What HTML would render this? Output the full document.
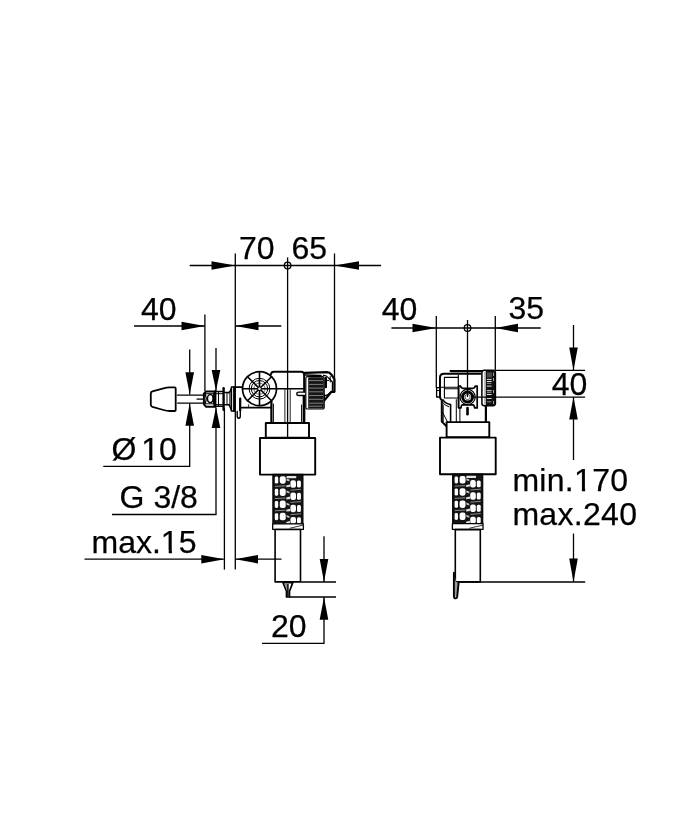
<!DOCTYPE html>
<html>
<head>
<meta charset="utf-8">
<title>Drawing</title>
<style>
html,body{margin:0;padding:0;background:#fff;}
body{width:678px;height:814px;overflow:hidden;}
svg{display:block;will-change:transform;}
text{font-family:"Liberation Sans",Arial,sans-serif;font-size:32px;fill:#000;stroke:#000;stroke-width:0.25px;}
.d{stroke:#000;stroke-width:1.3;fill:none;}
.o{stroke:#000;stroke-width:1.9;fill:none;stroke-linejoin:round;stroke-linecap:round;}
.t{stroke:#000;stroke-width:1;fill:none;stroke-linejoin:round;stroke-linecap:round;}
.w{stroke:#000;stroke-width:1.9;fill:#fff;stroke-linejoin:round;}
.a{fill:#000;stroke:none;}
</style>
</head>
<body>
<svg width="678" height="814" viewBox="0 0 678 814">
<rect width="678" height="814" fill="#fff"/>

<!-- ================= LEFT VIEW : object ================= -->
<g id="objL">
  <!-- cone cap -->
  <path class="o" d="M150.8 393.4Q150.8 391.8 152.4 391.3L163.5 388.3Q167 387.3 169.5 387.3H174.6Q175.7 387.3 175.7 388.4V409.9Q175.7 411 174.6 411H169.5Q167 411 163.5 410L152.4 406.8Q150.8 406.3 150.8 404.8Z" style="stroke-width:1.8"/>
  <!-- pipe -->
  <path class="t" d="M177.6 395.2H203M177.6 403.1H203M197 399H203" style="stroke-width:1.25"/>
  <!-- nut -->
  <path class="w" d="M206.2 391.4H214.4V406.8H206.2L203.9 404.4V393.8Z" style="stroke-width:2"/>
  <path class="t" d="M204.8 393.7H214.4M204.8 403.8H214.4"/>
  <ellipse class="t" cx="210.3" cy="398.6" rx="2.8" ry="4" style="stroke-width:1.4"/>
  <path class="t" d="M205.4 394Q207 398.6 205.4 403.4M214 394Q212.8 398.6 214 403.4" style="stroke-width:1.3"/>
  <path class="o" d="M215.3 391.2V406.8" style="stroke-width:2.2"/>
  <!-- fitting -->
  <path class="o" d="M216.3 391.5H222.5M216.3 406.3H222.5" style="stroke-width:1.5"/>
  <path class="t" d="M216.3 393.7H222.5M216.3 404.6H222.5M218.5 391.5V406.3"/>
  <path class="o" d="M223.6 388.2V409.8" style="stroke-width:2.4"/>
  <path class="o" d="M224.8 392.6H228.8M224.8 404.7H228.8" style="stroke-width:1.5"/>
  <path class="t" d="M227 392.6V404.7"/>
  <path class="o" d="M228.8 392.8Q230.2 391.5 231.3 388.4M228.8 404.5Q230.2 406.5 231.3 410" style="stroke-width:1.4"/>
  <path class="t" d="M229.9 391.6V406.2"/>
  <!-- flange -->
  <path class="w" d="M231.4 387H234.2V411H231.4Z" style="stroke-width:1.5"/>
  <path class="o" d="M234.2 387V411" style="stroke-width:2"/>
  <!-- body bar -->
  <path class="o" d="M234.8 387.2H242.6M240.2 407.7H271" style="stroke-width:1.7"/>
  <!-- clip -->
  <path class="o" d="M240.3 398.4V415.8Q240.3 418.3 238.8 418.3Q237.2 418.3 237.2 415.8V411.4" style="stroke-width:1.4"/>
  <path class="o" d="M240.2 398.6V410.5" style="stroke-width:2.2"/>
  <!-- wheel -->
  <circle class="w" cx="259.5" cy="388.7" r="17" style="stroke-width:1.7"/>
  <circle class="t" cx="259.5" cy="388.7" r="10.4" style="stroke-width:1"/>
  <circle class="t" cx="259.5" cy="388.7" r="8.2" style="stroke-width:1"/>
  <circle class="t" cx="259.5" cy="388.7" r="5.6" style="stroke-width:0.8;stroke:#444"/>
  <path class="t" d="M242.5 388.7H276.5M259.5 371.7V405.7M247.5 376.7L271.5 400.7M271.5 376.7L247.5 400.7" style="stroke-width:1.6"/>
  <circle cx="259.5" cy="388.7" r="1.3" fill="#fff" stroke="none"/>
  <path class="t" d="M248.6 404.6V407" style="stroke:#333"/>
  <!-- elbow -->
  <path class="o" d="M270.9 374.4Q271.4 371.7 273.8 371.7H301.2Q303.9 371.7 304.1 374.4V395"/>
  <path class="o" d="M276.5 388.7H304.1" style="stroke-width:1.5"/>
  <path class="t" d="M284.9 388.7V422.7M290.2 388.7V422.7" style="stroke:#222"/>
  <path class="o" d="M271.4 401.5V422.7" style="stroke-width:2.2"/>
  <path class="t" d="M273.4 404V422.7"/>
  <path class="o" d="M304 396V422.7" style="stroke-width:2.7"/>
  <path class="t" d="M301.6 405V422.7"/>
  <path class="w" d="M305.4 392.2H299Q296.8 392.2 296.8 393.9Q296.8 395.5 299 395.5H305.4" style="stroke-width:1.3"/>
  <!-- ribbed knob -->
  <path class="o" d="M304.8 372.9L327 372.1Q329.8 372.2 331.6 374.8L334.4 379.2V391.8H331.4L323.4 401.6" style="stroke-width:2.2"/>
  <path class="o" d="M305.4 375L321 375.5" style="stroke-width:1.6"/>
  <path class="t" d="M323.4 375.4Q326.4 375.2 328.6 378L332.4 382V391L327 395.2L323.4 396.2" style="stroke-width:1.2"/>
  <rect x="305.8" y="376.6" width="18.4" height="32.4" rx="1.6" fill="#fff" stroke="#000" stroke-width="1.2"/>
  <rect x="308.2" y="377.2" width="15.6" height="31.4" rx="1.2" fill="#161616"/>
  <path d="M309 380.6H323M309 384.4H323M309 388.1H323M309 391.8H323M309 395.5H323M309 399.3H323M309 403.2H323M309 406.2H322" stroke="#8a8a8a" stroke-width="0.9" fill="none"/>
  <path class="t" d="M325.9 377.8V387.2" style="stroke-width:2.2"/>
  <path class="t" d="M327.4 380.4H328.6M330.2 376.5V382"/>
  <path class="t" d="M324.6 394.5V400"/>
  <!-- collars -->
  <path class="w" d="M265.8 423H309V437.6H265.8Z"/>
  <path class="w" d="M260 438H315.2V474.6H260Z"/>
  <!-- spiral tube -->
    <rect x="272.9" y="474.4" width="30" height="49.4" fill="#141414" stroke="#000" stroke-width="1.2"/>
    <g fill="#fff" stroke="none">
    <rect x="274.8" y="476.6" width="3.4" height="7.0" rx="1.4"/>
    <rect x="279.8" y="476.2" width="5.9" height="7.5" rx="2.1"/>
    <rect x="290.4" y="480.3" width="5.6" height="7.5" rx="2.1"/>
    <rect x="297.0" y="480.6" width="3.9" height="6.9" rx="1.5"/>
    <path d="M286.3 485.4L290.1 484.4V486.8L286.3 487.2Z" fill="#e4e4e4"/>
    <path d="M286.5 478.4L289.5 479.6V481.4L286.5 480.4Z" fill="#c4c4c4"/>
    <path d="M274.9 486.4L285.5 485.8" stroke="#9a9a9a" stroke-width="0.9" fill="none"/>
    <path d="M290.5 490.2L300.9 489.4" stroke="#9a9a9a" stroke-width="0.9" fill="none"/>
    <rect x="274.8" y="488.8" width="3.4" height="7.0" rx="1.4"/>
    <rect x="279.8" y="488.4" width="5.9" height="7.5" rx="2.1"/>
    <rect x="290.4" y="492.5" width="5.6" height="7.5" rx="2.1"/>
    <rect x="297.0" y="492.8" width="3.9" height="6.9" rx="1.5"/>
    <path d="M286.3 497.6L290.1 496.6V499.0L286.3 499.4Z" fill="#e4e4e4"/>
    <path d="M286.5 490.6L289.5 491.8V493.6L286.5 492.6Z" fill="#c4c4c4"/>
    <path d="M274.9 498.6L285.5 498.0" stroke="#9a9a9a" stroke-width="0.9" fill="none"/>
    <path d="M290.5 502.4L300.9 501.6" stroke="#9a9a9a" stroke-width="0.9" fill="none"/>
    <rect x="274.8" y="501.0" width="3.4" height="7.0" rx="1.4"/>
    <rect x="279.8" y="500.6" width="5.9" height="7.5" rx="2.1"/>
    <rect x="290.4" y="504.7" width="5.6" height="7.5" rx="2.1"/>
    <rect x="297.0" y="505.0" width="3.9" height="6.9" rx="1.5"/>
    <path d="M286.3 509.8L290.1 508.8V511.2L286.3 511.6Z" fill="#e4e4e4"/>
    <path d="M286.5 502.8L289.5 504.0V505.8L286.5 504.8Z" fill="#c4c4c4"/>
    <path d="M274.9 510.8L285.5 510.2" stroke="#9a9a9a" stroke-width="0.9" fill="none"/>
    <path d="M290.5 514.6L300.9 513.8" stroke="#9a9a9a" stroke-width="0.9" fill="none"/>
    <rect x="274.8" y="513.2" width="3.4" height="7.0" rx="1.4"/>
    <rect x="279.8" y="512.8" width="5.9" height="7.5" rx="2.1"/>
    <rect x="290.4" y="516.9" width="5.6" height="6.8" rx="2.1"/>
    <rect x="297.0" y="517.2" width="3.9" height="6.2" rx="1.5"/>
    <path d="M286.3 522.0L290.1 521.0V523.4L286.3 523.8Z" fill="#e4e4e4"/>
    <path d="M286.5 515.0L289.5 516.2V518.0L286.5 517.0Z" fill="#c4c4c4"/>
    <rect x="286.4" y="475.9" width="10" height="2.3" rx="1" fill="#e4e4e4"/>
    </g>
  <!-- ring -->
  <path class="w" d="M272.7 523.8H303.4V529.4H272.7Z" style="stroke-width:1.3"/>
  <path class="t" d="M290 528.2L303 525.2" style="stroke:#333"/>
  <!-- lower tube -->
  <path class="w" d="M275.1 529.5H300.5V581.9H275.1Z" style="stroke-width:1.6"/>
  <!-- tip -->
  <path d="M283 582.6L286.5 591.2V597H289.5V591.2L292.8 582.6Z" fill="#fff" stroke="#000" stroke-width="1.7" stroke-linejoin="round"/>
  <path d="M284.4 583.2H287.4V592Z" fill="#8a8a8a"/>
  <path d="M287.9 584V596.4" fill="none" stroke="#000" stroke-width="1.5"/>
</g>

<!-- ================= RIGHT VIEW : object ================= -->
<g id="objR">
  <!-- small box left -->
  <path class="o" d="M439.6 387.7H436.6V397H439.6" style="stroke-width:1.3"/>
  <path class="t" d="M436.6 390.5H440"/>
  <!-- top lines -->
  <path d="M451 371H481V373.8H451Z" fill="#bdbdbd"/>
  <path class="o" d="M450.4 371H483.1" style="stroke-width:1.8"/>
  <!-- body outline -->
  <path class="o" d="M480.5 373.8H444Q440 373.8 440 377.8V396.5Q440 398.8 441.8 400.2V421.6L447.3 427" style="stroke-width:2"/>
  <!-- inner rect -->
  <path class="t" d="M444.4 377.4H458.3M444.4 377.4V398M441 387.2H458.3M444.4 388.8H458.3M444.4 398H458.3" style="stroke-width:1.1"/>
  <path class="t" d="M458.3 375.4V407.4" style="stroke-width:1.2"/>
  <!-- shoulder curves -->
  <path class="o" d="M443 399.8Q445 403.2 450.6 404.6V421.8" style="stroke-width:1.6"/>
  <path class="t" d="M442 401.5Q444 405.6 448.8 406.8"/>
  <path class="t" d="M442.6 412.5L447.4 421.6M443.2 405V421.6"/>
  <path class="t" d="M456.3 399.6V421.8M459.9 408V421.8"/>
  <!-- bracket around inlet -->
  <path class="w" d="M458.7 386.2H460.6Q461 388.3 462.8 388.3H473Q474.8 388.3 475.2 386.2H477.2V407.9H474.6Q474.4 404.8 472.8 404.8H462.6Q461.2 404.8 461 407.9H458.7Z" style="stroke-width:1.7"/>
  <!-- inlet circle -->
  <circle cx="467.6" cy="397" r="7.6" fill="#fff" stroke="#000" stroke-width="1.2"/>
  <circle cx="467.6" cy="397" r="5.0" fill="#fff" stroke="#000" stroke-width="3"/>
  <circle cx="467.6" cy="397" r="2.6" fill="none" stroke="#333" stroke-width="0.8"/>
  <path class="o" d="M467.5 408V414.2" style="stroke-width:2.6"/>
  <!-- right neck -->
  <path class="o" d="M485.9 405.6V421.8" style="stroke-width:2.2"/>
  <!-- knob side -->
  <rect x="481.9" y="370.3" width="13.5" height="35.4" rx="2.4" fill="#fff" stroke="#000" stroke-width="1.5"/>
  <path d="M484.1 371.4H485.9V404.6H484.1Z" fill="#b8b8b8"/>
  <path d="M485.9 371H493.6Q495 371 495 372.6V403.4Q495 405 493.6 405H485.9Z" fill="#101010"/>
  <rect x="487" y="372.4" width="5" height="5" fill="#4a4a4a"/>
  <path d="M486.9 379.4H491.6M486.9 381.5H491.6M486.9 386.1H491.6M486.9 390.7H491.6M486.9 394.5H491.6M486.9 398.4H491.6" stroke="#f2f2f2" stroke-width="0.95" fill="none"/>
  <path d="M486.9 383.4H491.4M486.9 392.4H491.4M486.9 401.8H491.4" stroke="#8c8c8c" stroke-width="1" fill="none"/>
  <path d="M493.5 372.5V376M493.5 378V381M493.5 390V393M493.5 401V404" stroke="#ddd" stroke-width="0.7" fill="none"/>
  <!-- collars -->
  <path class="w" d="M446.6 422.1H489.3V437.2H446.6Z"/>
  <path class="w" d="M440 437.6H495.7V474.2H440Z"/>
  <!-- spiral -->
    <rect x="452.7" y="474.2" width="30" height="49.5" fill="#141414" stroke="#000" stroke-width="1.2"/>
    <g fill="#fff" stroke="none">
    <rect x="454.6" y="476.4" width="3.4" height="7.0" rx="1.4"/>
    <rect x="459.6" y="476.0" width="5.9" height="7.5" rx="2.1"/>
    <rect x="470.2" y="480.1" width="5.6" height="7.5" rx="2.1"/>
    <rect x="476.8" y="480.4" width="3.9" height="6.9" rx="1.5"/>
    <path d="M466.1 485.2L469.9 484.2V486.6L466.1 487.0Z" fill="#e4e4e4"/>
    <path d="M466.3 478.2L469.3 479.4V481.2L466.3 480.2Z" fill="#c4c4c4"/>
    <path d="M454.7 486.2L465.3 485.6" stroke="#9a9a9a" stroke-width="0.9" fill="none"/>
    <path d="M470.3 490.0L480.7 489.2" stroke="#9a9a9a" stroke-width="0.9" fill="none"/>
    <rect x="454.6" y="488.6" width="3.4" height="7.0" rx="1.4"/>
    <rect x="459.6" y="488.2" width="5.9" height="7.5" rx="2.1"/>
    <rect x="470.2" y="492.3" width="5.6" height="7.5" rx="2.1"/>
    <rect x="476.8" y="492.6" width="3.9" height="6.9" rx="1.5"/>
    <path d="M466.1 497.4L469.9 496.4V498.8L466.1 499.2Z" fill="#e4e4e4"/>
    <path d="M466.3 490.4L469.3 491.6V493.4L466.3 492.4Z" fill="#c4c4c4"/>
    <path d="M454.7 498.4L465.3 497.8" stroke="#9a9a9a" stroke-width="0.9" fill="none"/>
    <path d="M470.3 502.2L480.7 501.4" stroke="#9a9a9a" stroke-width="0.9" fill="none"/>
    <rect x="454.6" y="500.8" width="3.4" height="7.0" rx="1.4"/>
    <rect x="459.6" y="500.4" width="5.9" height="7.5" rx="2.1"/>
    <rect x="470.2" y="504.5" width="5.6" height="7.5" rx="2.1"/>
    <rect x="476.8" y="504.8" width="3.9" height="6.9" rx="1.5"/>
    <path d="M466.1 509.6L469.9 508.6V511.0L466.1 511.4Z" fill="#e4e4e4"/>
    <path d="M466.3 502.6L469.3 503.8V505.6L466.3 504.6Z" fill="#c4c4c4"/>
    <path d="M454.7 510.6L465.3 510.0" stroke="#9a9a9a" stroke-width="0.9" fill="none"/>
    <path d="M470.3 514.4L480.7 513.6" stroke="#9a9a9a" stroke-width="0.9" fill="none"/>
    <rect x="454.6" y="513.0" width="3.4" height="7.0" rx="1.4"/>
    <rect x="459.6" y="512.6" width="5.9" height="7.5" rx="2.1"/>
    <rect x="470.2" y="516.7" width="5.6" height="6.8" rx="2.1"/>
    <rect x="476.8" y="517.0" width="3.9" height="6.2" rx="1.5"/>
    <path d="M466.1 521.8L469.9 520.8V523.2L466.1 523.6Z" fill="#e4e4e4"/>
    <path d="M466.3 514.8L469.3 516.0V517.8L466.3 516.8Z" fill="#c4c4c4"/>
    <rect x="466.2" y="475.7" width="10" height="2.3" rx="1" fill="#e4e4e4"/>
    </g>
  <path class="w" d="M452.4 523.7H483V529.4H452.4Z" style="stroke-width:1.3"/>
  <path class="t" d="M469.6 528.2L482.6 525.2" style="stroke:#333"/>
  <!-- lower tube -->
  <path class="w" d="M455.3 529.6H480.3V581.9H455.3Z" style="stroke-width:1.6"/>
  <!-- blade tip -->
  <path d="M454.6 574V596.5H456.6L458 583.2L455.6 581Z" fill="#9a9a9a"/>
  <path d="M453.9 572.6V596Q453.9 598.4 455.6 598.4Q457 598.4 457.2 596.6L458.7 582.2" fill="none" stroke="#000" stroke-width="1.9" stroke-linejoin="round" stroke-linecap="round"/>
</g>

<!-- ================= LEFT VIEW : dimensions ================= -->
<g id="dimsL">
  <!-- 70 / 65 -->
  <path class="d" d="M189.7 265.5H381"/>
  <path class="d" d="M235.3 253.5V569.6"/>
  <path class="d" d="M334.5 253.5V392"/>
  <path class="d" d="M287.6 257.4V437.3"/>
  <circle class="d" cx="287.6" cy="265.5" r="3.3"/>
  <path class="a" d="M235.3 265.5L211.5 261.2V269.8Z"/>
  <path class="a" d="M334.5 265.5L359 261.2V269.8Z"/>
  <text x="239" y="259">70</text>
  <text x="291.5" y="259">65</text>

  <!-- 40 -->
  <path class="d" d="M134 326H204.9"/>
  <path class="d" d="M204.9 314.4V391.2"/>
  <path class="a" d="M204.9 326L181.5 321.7V330.3Z"/>
  <path class="d" d="M235.3 326H281.3"/>
  <path class="a" d="M235.3 326L258.5 321.7V330.3Z"/>
  <text x="141" y="319.8">40</text>

  <!-- Ø10 -->
  <path class="d" d="M189.7 349.4V394.5"/>
  <path class="a" d="M189.7 394.5L185.4 372.2H194Z"/>
  <path class="d" d="M189.7 403.5V466.3H103.3"/>
  <path class="a" d="M189.7 403.5L185.4 425.7H194Z"/>
  <text x="111.5" y="459.7">Ø</text>
  <text x="141.3" y="459.7">10</text>
  <!-- foot --> <rect x="142.80" y="456.70" width="6.35" height="4.4" fill="#fff"/><rect x="152.40" y="456.70" width="6.10" height="4.4" fill="#fff"/>

  <!-- G 3/8 -->
  <path class="d" d="M216 348V390.8"/>
  <path class="a" d="M216 390.8L211.7 370H220.3Z"/>
  <path class="d" d="M216 407.4V514.5H112"/>
  <path class="a" d="M216 407.4L211.7 428H220.3Z"/>
  <text x="119.6" y="507.9">G 3/8</text>

  <!-- max.15 -->
  <path class="d" d="M84.5 559.2H223.7"/>
  <path class="a" d="M224.4 559.2L201.3 554.9V563.5Z"/>
  <path class="d" d="M224.4 408V569.6"/>
  <path class="d" d="M235.3 559.2H281.5"/>
  <path class="a" d="M235.3 559.2L258 554.9V563.5Z"/>
  <text x="91.5" y="553">max.15</text>
  <!-- foot --> <rect x="162.34" y="550.00" width="6.35" height="4.4" fill="#fff"/><rect x="171.94" y="550.00" width="6.10" height="4.4" fill="#fff"/>

  <!-- 20 -->
  <path class="d" d="M324 536.3V582"/>
  <path class="a" d="M324 582L319.7 559H328.3Z"/>
  <path class="d" d="M324 597V643.3H262"/>
  <path class="a" d="M324 597L319.7 619.8H328.3Z"/>
  <path class="d" d="M300.5 582H336"/>
  <path class="d" d="M289.4 597H336"/>
  <text x="271" y="636.5">20</text>
</g>

<!-- ================= RIGHT VIEW : dimensions ================= -->
<g id="dimsR">
  <path class="d" d="M391.4 328H540.7"/>
  <path class="d" d="M436.3 316V387.7"/>
  <path class="d" d="M495.3 316V370.4"/>
  <path class="d" d="M467.5 320V397"/>
  <circle class="d" cx="467.5" cy="328" r="3.3"/>
  <path class="a" d="M436.3 328L412.5 323.7V332.3Z"/>
  <path class="a" d="M495.3 328L518 323.7V332.3Z"/>
  <text x="381.8" y="320">40</text>
  <text x="508.5" y="319.3">35</text>

  <path class="d" d="M573.5 325V370"/>
  <path class="a" d="M573.5 370.3L569.2 347.6H577.8Z"/>
  <path class="d" d="M495.7 370.3H585.1"/>
  <path class="d" d="M473.3 397.1H585.1"/>
  <path class="a" d="M573.5 397.1L569.2 419.5H577.8Z"/>
  <path class="d" d="M573.5 397.1V460"/>
  <path class="d" d="M573.5 533.6V582"/>
  <path class="a" d="M573.5 582L569.2 558.6H577.8Z"/>
  <path class="d" d="M459.8 582H585.2"/>
  <text x="551.8" y="395.3">40</text>
  <text x="512.4" y="491" style="letter-spacing:0.3px">min.170</text>
  <!-- foot --> <rect x="575.55" y="488.00" width="6.35" height="4.4" fill="#fff"/><rect x="585.15" y="488.00" width="6.10" height="4.4" fill="#fff"/>
  <text x="512.4" y="524.9" style="letter-spacing:0.3px">max.240</text>
</g>

</svg>
</body>
</html>
